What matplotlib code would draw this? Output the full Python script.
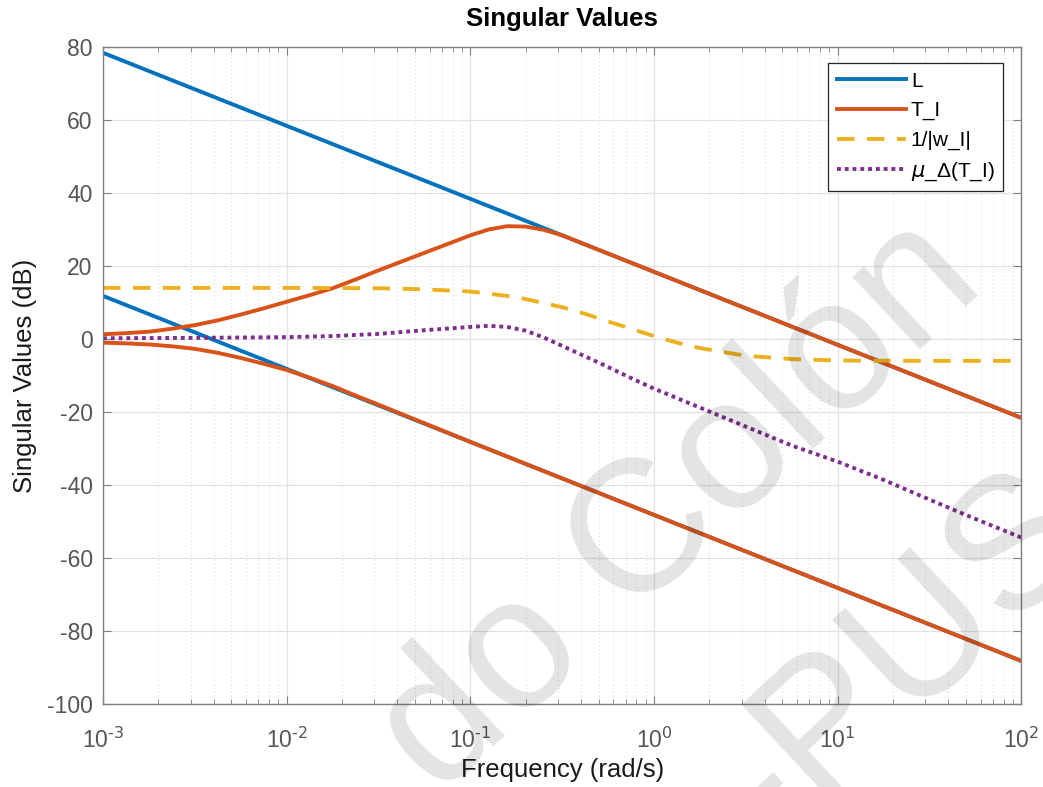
import numpy as np
import matplotlib
matplotlib.use("Agg")
from matplotlib import pyplot as plt
from matplotlib.ticker import FixedLocator, FixedFormatter

plt.rcParams['font.family'] = ['Liberation Sans', 'DejaVu Sans']
plt.rcParams['axes.unicode_minus'] = False

# values (log10 of frequency, dB)
L1_logw = [-3.0, 2.0]
L1_db = [78.4, -21.6]
L2_logw = [-3.0, 2.0]
L2_db = [11.8, -88.2]

TI1_logw = [-3.0, -2.875, -2.75, -2.625, -2.5, -2.375, -2.25, -2.125, -2.0,
            -1.875, -1.75, -1.625, -1.5, -1.375, -1.25, -1.125, -1.0, -0.9,
            -0.8, -0.7, -0.6, -0.5, -0.4, 2.0]
TI1_db = [1.3, 1.6, 2.0, 2.8, 3.8, 5.1, 6.7, 8.4, 10.2,
          12.0, 13.9, 16.3, 18.8, 21.2, 23.6, 26.0, 28.4, 30.0,
          30.9, 30.8, 29.9, 28.4, 26.4, -21.6]
TI2_logw = [-3.0, -2.875, -2.75, -2.625, -2.5, -2.375, -2.25, -2.125, -2.0,
            -1.875, -1.75, -1.625, -1.5, -1.25, -1.0, 2.0]
TI2_db = [-1.0, -1.2, -1.5, -2.0, -2.7, -3.8, -5.2, -6.8, -8.5,
          -10.6, -12.9, -15.5, -18.0, -23.1, -28.2, -88.2]

wI_logw = [-3.0, -2.0, -1.5, -1.25, -1.0, -0.75, -0.5, -0.375, -0.25, -0.125,
           0.0, 0.125, 0.25, 0.5, 0.75, 1.0, 1.5, 2.0]
wI_db = [14.0, 14.0, 13.9, 13.6, 13.0, 11.5, 8.7, 6.9, 4.8, 2.8,
         0.8, -1.0, -2.5, -4.6, -5.5, -5.9, -6.0, -6.0]

mu_logw = [-3.0, -2.5, -2.0, -1.75, -1.5, -1.25, -1.0, -0.9, -0.8, -0.7,
           -0.6, -0.5, -0.4, -0.3, -0.2, -0.1, 0.0, 0.25, 0.5, 0.75,
           1.0, 1.25, 1.5, 1.75, 2.0]
mu_db = [0.2, 0.3, 0.5, 0.8, 1.4, 2.4, 3.3, 3.6, 3.3, 2.3,
         0.4, -1.9, -4.2, -6.5, -8.9, -11.3, -13.6, -18.8, -24.0, -29.2,
         -33.6, -38.6, -44.0, -49.3, -54.4]

labels = ['L', 'T_I', '1/|w_I|', r'$\mu$_Δ(T_I)']
decades = [-3, -2, -1, 0, 1, 2]
c_blue, c_red, c_yel, c_pur = '#0072BD', '#D95319', '#EDB120', '#7E2F8E'

fig = plt.figure(figsize=(10.43, 7.87), dpi=100)
ax = fig.add_axes([0.0988, 0.1055, 0.8804, 0.8348])

lw = 2.8
ax.plot(10 ** np.array(L1_logw), L1_db, color=c_blue, lw=lw, label=labels[0])
ax.plot(10 ** np.array(L2_logw), L2_db, color=c_blue, lw=lw)
ax.plot(10 ** np.array(TI1_logw), TI1_db, color=c_red, lw=lw, label=labels[1])
ax.plot(10 ** np.array(TI2_logw), TI2_db, color=c_red, lw=lw)
ax.plot(10 ** np.array(wI_logw), wI_db, color=c_yel, lw=lw, dashes=(4.5, 3.2),
        label=labels[2])
ax.plot(10 ** np.array(mu_logw), mu_db, color=c_pur, lw=lw, dashes=(1.0, 1.0),
        dash_capstyle='butt', label=labels[3])

ax.set_xscale('log')
ax.set_xlim(1e-3, 1e2)
ax.set_ylim(-100, 80)
ax.set_yticks(np.arange(-100, 81, 20))
ax.xaxis.set_major_locator(FixedLocator([10.0 ** d for d in decades]))
ax.xaxis.set_major_formatter(FixedFormatter(
    [r'$\mathregular{10^{\text{%d}}}$' % d for d in decades]))

ax.grid(True, which='major', color='#e2e2e2', lw=0.9)
ax.grid(True, which='minor', axis='x', color='#d5d5d5', lw=0.7, ls=(0, (1, 3)))
ax.set_axisbelow(True)

for s in ax.spines.values():
    s.set_color('#808080')
    s.set_linewidth(1.0)
ax.tick_params(which='both', direction='in', top=True, right=True,
               colors='#808080', labelcolor='#555555', labelsize=16.5)
ax.tick_params(which='major', length=6)
ax.tick_params(which='minor', length=3.5)
ax.tick_params(axis='x', pad=17)
ax.tick_params(axis='y', pad=7.5)

ax.set_xlabel('Frequency (rad/s)', fontsize=18.5, color='#1a1a1a', labelpad=4)
ax.set_ylabel('Singular Values (dB)', fontsize=18.5, color='#1a1a1a', labelpad=7)
ax.set_title('Singular Values', fontsize=18.5, fontweight='bold', pad=15)

leg = ax.legend(loc='upper right', bbox_to_anchor=(0.980, 0.975), fontsize=15,
                handlelength=3.3, labelspacing=0.5, handletextpad=0.25,
                borderpad=0.4, borderaxespad=0, fancybox=False, framealpha=1)
leg.get_frame().set_edgecolor('#262626')
leg.get_frame().set_linewidth(0.9)

# watermark
fig.text(0.652, 0.355, 'do Colón', fontsize=135, rotation=43, color='black',
         alpha=0.11, ha='center', va='center', zorder=10)
fig.text(0.865, 0.165, '-PUS', fontsize=135, rotation=43, color='black',
         alpha=0.11, ha='center', va='center', zorder=10)

fig.savefig('out.png', dpi=100)
